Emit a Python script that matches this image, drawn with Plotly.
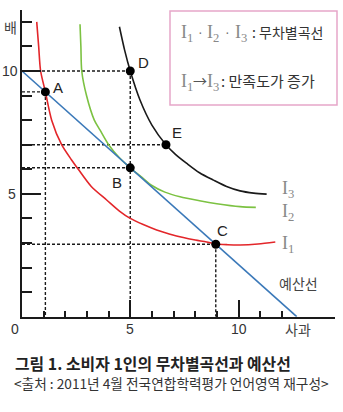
import plotly.graph_objects as go

W, H = 343, 412

# Indifference curves: apples (x) vs pears (y)
i1_x = [0.68, 0.77, 0.86, 1.08, 1.37, 1.83, 2.29, 2.6, 3.2, 3.91, 4.5, 5.0, 5.6, 6.22, 6.8, 7.45, 8.0, 8.53, 8.95, 9.5, 10.07, 10.9, 11.7]
i1_y = [12.0, 11.0, 10.0, 9.15, 8.0, 7.0, 6.38, 6.0, 5.3, 4.75, 4.3, 4.0, 3.75, 3.53, 3.37, 3.22, 3.12, 3.04, 2.96, 2.93, 2.92, 2.96, 3.04]

i2_x = [2.68, 2.72, 2.76, 2.98, 3.34, 3.6, 4.0, 4.5, 5.0, 5.5, 6.0, 6.6, 7.3, 8.2, 9.0, 10.07, 10.8]
i2_y = [11.9, 11.0, 10.0, 9.0, 8.0, 7.6, 7.0, 6.47, 6.06, 5.7, 5.34, 5.07, 4.88, 4.72, 4.6, 4.48, 4.45]

i3_x = [4.5, 4.74, 5.0, 5.45, 6.0, 6.65, 7.1, 7.61, 8.2, 8.84, 9.45, 10.07, 10.7, 11.3]
i3_y = [11.8, 10.85, 10.0, 8.82, 7.8, 7.0, 6.6, 6.24, 5.86, 5.56, 5.3, 5.12, 5.03, 4.99]

# Budget line intercepts
budget_x = [0, 12.69]
budget_y = [10, 0]

# Marked bundles
point_names = ["A", "B", "C", "D", "E"]
point_x = [1.08, 5.0, 8.95, 5.0, 6.65]
point_y = [9.15, 6.06, 2.95, 10.0, 7.0]
drop_vertical = [True, False, True, True, False]

x_ticks = list(range(1, 13))
y_ticks = list(range(1, 13))
x_major = [5, 10]
y_major = [5, 10]

RED, GREEN, BLACK, BLUE = "#e3262a", "#7cc242", "#1a1a1a", "#3b79b9"
SANS = "Liberation Sans, Arial, sans-serif"
KR = "Noto Sans CJK KR, sans-serif"
SERIF = "Liberation Serif, Times New Roman, serif"

fig = go.Figure()

# Dashed guides from each bundle to the axes
dash = dict(color="#1a1a1a", width=1.4, dash="3px,2px")
for px_, py_, vert in zip(point_x, point_y, drop_vertical):
    fig.add_trace(go.Scatter(x=[0, px_], y=[py_, py_], mode="lines", line=dash,
                             hoverinfo="skip", showlegend=False))
    if vert:
        fig.add_trace(go.Scatter(x=[px_, px_], y=[py_, 0], mode="lines", line=dash,
                                 hoverinfo="skip", showlegend=False))

for cx, cy, col in [(i1_x, i1_y, RED), (i2_x, i2_y, GREEN), (i3_x, i3_y, BLACK)]:
    fig.add_trace(go.Scatter(x=cx, y=cy, mode="lines",
                             line=dict(color=col, width=1.6, shape="spline", smoothing=0.8),
                             hoverinfo="skip", showlegend=False))

fig.add_trace(go.Scatter(x=budget_x, y=budget_y, mode="lines",
                         line=dict(color=BLUE, width=1.6), hoverinfo="skip", showlegend=False))

fig.add_trace(go.Scatter(x=point_x, y=point_y, mode="markers",
                         marker=dict(color="#000000", size=9), cliponaxis=False,
                         hoverinfo="skip", showlegend=False))

# Bundle labels
label_shift = {"A": (13, 4), "B": (-13, -15), "C": (7, 14), "D": (13, 9), "E": (11, 12)}
annotations = []
for name, px_, py_ in zip(point_names, point_x, point_y):
    dx, dy = label_shift[name]
    annotations.append(dict(x=px_, y=py_, xref="x", yref="y", text=name, showarrow=False,
                            xshift=dx, yshift=dy, font=dict(family=SANS, size=15, color="#222")))


def px(xp, yp, text, size, color="#333", family=SANS, xanchor="center", weight=None):
    font = dict(family=family, size=size, color=color)
    if weight:
        font["weight"] = weight
    annotations.append(dict(x=xp / W, y=1 - yp / H, xref="paper", yref="paper", text=text,
                            showarrow=False, xanchor=xanchor, yanchor="middle", font=font))


# Axis numbers and titles
px(15, 329, "0", 14)
px(130, 329, "5", 14)
px(239, 329, "10", 14)
px(298, 329, "사과", 14, family=KR, color="#444")
px(12, 194, "5", 14)
px(10, 71, "10", 14)
px(10, 27, "배", 14, family=KR, color="#444")
px(298, 283, "예산선", 14, family=KR, color="#444")

# Curve names
px(288, 189, "I<sub>3</sub>", 18, color="#888", family=SERIF)
px(288, 212, "I<sub>2</sub>", 18, color="#888", family=SERIF)
px(288, 245, "I<sub>1</sub>", 18, color="#888", family=SERIF)

# Key box text
px(187, 34, "I<sub>1</sub>", 18, color="#888", family=SERIF)
px(200, 32, "·", 14, color="#777")
px(213, 34, "I<sub>2</sub>", 18, color="#888", family=SERIF)
px(227, 32, "·", 14, color="#777")
px(241, 34, "I<sub>3</sub>", 18, color="#888", family=SERIF)
px(250, 32, ": 무차별곡선", 14, family=KR, color="#333", xanchor="left")
px(187, 82, "I<sub>1</sub>", 18, color="#888", family=SERIF)
px(200, 80, "→", 14, family=KR, color="#555")
px(213, 82, "I<sub>3</sub>", 18, color="#888", family=SERIF)
px(219, 80, ": 만족도가 증가", 15, family=KR, color="#333", xanchor="left")

# Caption
px(13, 363, "그림 1. 소비자 1인의 무차별곡선과 예산선", 15.9, family=KR, color="#222",
   xanchor="left", weight="bold")
px(12, 383, "&lt;출처 : 2011년 4월 전국연합학력평가 언어영역 재구성&gt;", 13.7, family=KR,
   color="#333", xanchor="left")

x0_px, x1_px = 22, 335
y0_px, y1_px = 316.7, 10
ux, uy = 21.65, 24.57

axis_common = dict(showgrid=False, zeroline=False, showline=True, linecolor="#1a1a1a",
                   linewidth=2, ticks="inside", tickcolor="#1a1a1a", tickwidth=2,
                   showticklabels=False, fixedrange=True)

fig.update_layout(
    width=W, height=H, margin=dict(l=0, r=0, t=0, b=0),
    paper_bgcolor="white", plot_bgcolor="white",
    xaxis=dict(domain=[x0_px / W, x1_px / W], range=[0, (x1_px - x0_px) / ux],
               tickmode="array", tickvals=x_major, ticklen=17,
               minor=dict(tickmode="array", tickvals=x_ticks, ticks="inside", ticklen=6,
                          tickwidth=2, tickcolor="#1a1a1a"),
               anchor="y", **axis_common),
    yaxis=dict(domain=[1 - y0_px / H, 1 - y1_px / H], range=[0, (y0_px - y1_px) / uy],
               tickmode="array", tickvals=y_major, ticklen=19,
               minor=dict(tickmode="array", tickvals=y_ticks, ticks="inside", ticklen=10,
                          tickwidth=2, tickcolor="#1a1a1a"),
               anchor="x", **axis_common),
    annotations=annotations,
    shapes=[dict(type="rect", xref="paper", yref="paper",
                 x0=170 / W, x1=337 / W, y0=1 - 105 / H, y1=1 - 11 / H,
                 line=dict(color="#e6a6c9", width=1.5), fillcolor="rgba(0,0,0,0)")],
)

fig.write_html("out.html")
